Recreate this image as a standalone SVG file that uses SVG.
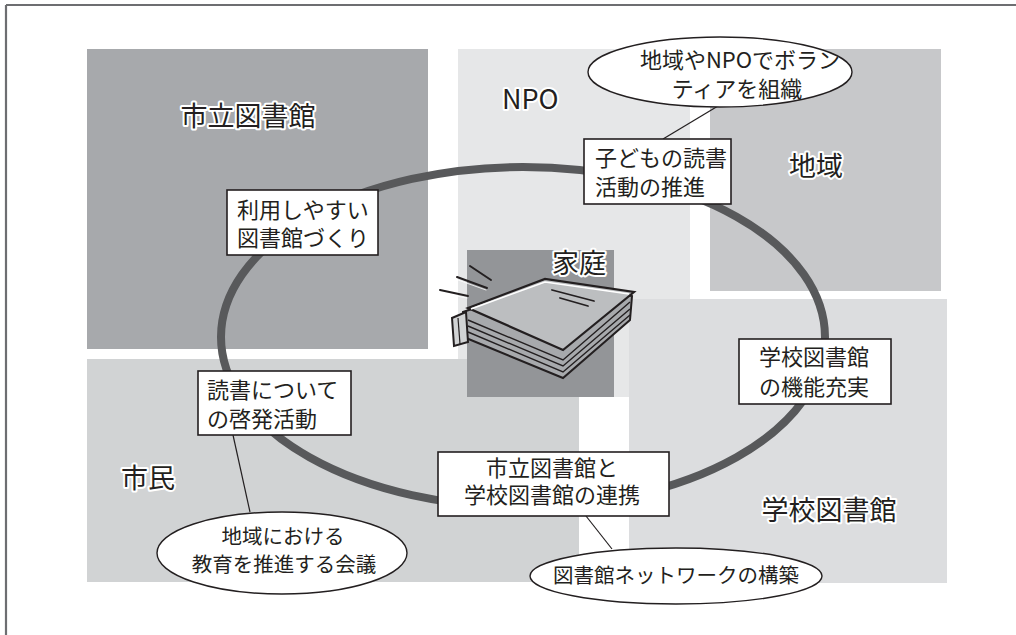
<svg xmlns="http://www.w3.org/2000/svg" width="1016" height="635" viewBox="0 0 1016 635">
  <style>
    text { font-family: "Noto Sans CJK JP", "Noto Sans", sans-serif; fill: #231f20; }
    .area { font-size: 27px; stroke: #ffffff; stroke-width: 4; paint-order: stroke; stroke-linejoin: round; }
    .lbl { font-size: 22px; }
    .note { font-size: 20.5px; }
    .box { fill: #ffffff; stroke: #231f20; stroke-width: 1.6; }
    .oval { fill: #ffffff; stroke: #231f20; stroke-width: 1.4; }
    .lead { stroke: #231f20; stroke-width: 1.2; fill: none; }
    .ring { fill: none; stroke: #58595b; stroke-width: 8; }
  </style>

  <!-- frame -->
  <g id="frame" stroke="#6d6e71" stroke-width="2.2" fill="none">
    <line x1="6" y1="5" x2="1016" y2="5"/>
    <line x1="6" y1="5" x2="6" y2="635"/>
  </g>

  <!-- areas -->
  <g id="area-npo">
    <rect x="458" y="49" width="232" height="348" fill="#e6e7e8"/>
    <text class="area" x="502" y="109">NPO</text>
  </g>
  <g id="area-city-library">
    <rect x="87" y="49" width="341" height="300" fill="#a7a9ac"/>
    <text class="area" x="248" y="126" text-anchor="middle">市立図書館</text>
  </g>
  <g id="area-community">
    <rect x="710" y="49" width="231" height="242" fill="#c7c8ca"/>
    <text class="area" x="816" y="176" text-anchor="middle">地域</text>
  </g>
  <g id="area-citizens">
    <rect x="87" y="359" width="492" height="223" fill="#d1d3d4"/>
    <text class="area" x="148" y="488" text-anchor="middle">市民</text>
  </g>
  <g id="area-school-library">
    <rect x="629" y="299" width="318" height="284" fill="#dcdddf"/>
    <text class="area" x="829" y="520" text-anchor="middle">学校図書館</text>
  </g>

  <!-- cycle ring -->
  <g id="connectors">
    <ellipse class="ring" cx="523" cy="337" rx="302" ry="170"/>
    <line class="lead" x1="718" y1="106" x2="663" y2="139"/>
    <line class="lead" x1="233" y1="435" x2="250" y2="512"/>
    <line class="lead" x1="586" y1="516" x2="612" y2="549"/>
  </g>

  <!-- home: book picture -->
  <g id="home">
    <rect x="467" y="250" width="147" height="147" fill="#939598"/>
    <!-- speed lines -->
    <g stroke="#231f20" stroke-width="2" stroke-linecap="round">
      <line x1="440" y1="290" x2="468" y2="296"/>
      <line x1="457" y1="277" x2="487" y2="288"/>
      <line x1="470" y1="266" x2="491" y2="280"/>
    </g>
    <g stroke="#ffffff" stroke-width="1" stroke-linecap="round" opacity="0.8">
      <line x1="441" y1="293" x2="467" y2="298"/>
      <line x1="458" y1="280" x2="486" y2="290"/>
    </g>
    <!-- page block -->
    <polygon points="463,312 545,284 632,296 630,320 563,378 466,338" fill="#a7a9ac" stroke="#231f20" stroke-width="2"/>
    <g stroke="#231f20" stroke-width="1.4" fill="none">
      <path d="M468,320 L563,360 L630,302"/>
      <path d="M468,326 L563,366 L630,309"/>
      <path d="M468,332 L563,372 L630,315"/>
    </g>
    <!-- open left pages -->
    <polygon points="452,318 466,312 468,342 454,346" fill="#d1d3d4" stroke="#231f20" stroke-width="2"/>
    <line x1="458" y1="318" x2="460" y2="344" stroke="#231f20" stroke-width="1.2"/>
    <!-- cover -->
    <polygon points="468,308 545,279 634,292 563,350" fill="#bcbec0" stroke="#231f20" stroke-width="2.2"/>
    <polyline points="471,309 545,282 629,294" fill="none" stroke="#ffffff" stroke-width="1.5"/>
    <!-- title marks -->
    <g stroke="#231f20" stroke-width="1.8" stroke-linecap="round">
      <line x1="552" y1="290" x2="594" y2="301"/>
      <line x1="560" y1="298" x2="588" y2="306"/>
    </g>
    <text class="area" x="579" y="273" text-anchor="middle">家庭</text>
  </g>

  <!-- activity boxes -->
  <g id="box-easy-library">
    <rect class="box" x="227" y="190" width="151" height="65"/>
    <text class="lbl" x="237" y="218">利用しやすい</text>
    <text class="lbl" x="237" y="246">図書館づくり</text>
  </g>
  <g id="box-children-reading">
    <rect class="box" x="584" y="139" width="147" height="65"/>
    <text class="lbl" x="595" y="166">子どもの読書</text>
    <text class="lbl" x="595" y="195">活動の推進</text>
  </g>
  <g id="box-school-function">
    <rect class="box" x="739" y="339" width="152" height="65"/>
    <text class="lbl" x="759" y="365">学校図書館</text>
    <text class="lbl" x="759" y="395">の機能充実</text>
  </g>
  <g id="box-awareness">
    <rect class="box" x="198" y="371" width="153" height="64"/>
    <text class="lbl" x="207" y="398">読書について</text>
    <text class="lbl" x="207" y="427">の啓発活動</text>
  </g>
  <g id="box-cooperation">
    <rect class="box" x="438" y="452" width="231" height="64"/>
    <text class="lbl" x="552" y="476" text-anchor="middle">市立図書館と</text>
    <text class="lbl" x="552" y="503" text-anchor="middle">学校図書館の連携</text>
  </g>

  <!-- notes -->
  <g id="note-volunteers">
    <ellipse class="oval" cx="720" cy="72" rx="132" ry="35"/>
    <text class="lbl" x="740" y="68" text-anchor="middle">地域やNPOでボラン</text>
    <text class="lbl" x="737" y="97" text-anchor="middle">ティアを組織</text>
  </g>
  <g id="note-council">
    <ellipse class="oval" cx="282" cy="553" rx="125" ry="41"/>
    <text class="note" x="283" y="544" text-anchor="middle">地域における</text>
    <text class="note" x="284" y="572" text-anchor="middle">教育を推進する会議</text>
  </g>
  <g id="note-network">
    <ellipse class="oval" cx="676" cy="576" rx="146" ry="28"/>
    <text class="note" x="676" y="583" text-anchor="middle">図書館ネットワークの構築</text>
  </g>
</svg>
